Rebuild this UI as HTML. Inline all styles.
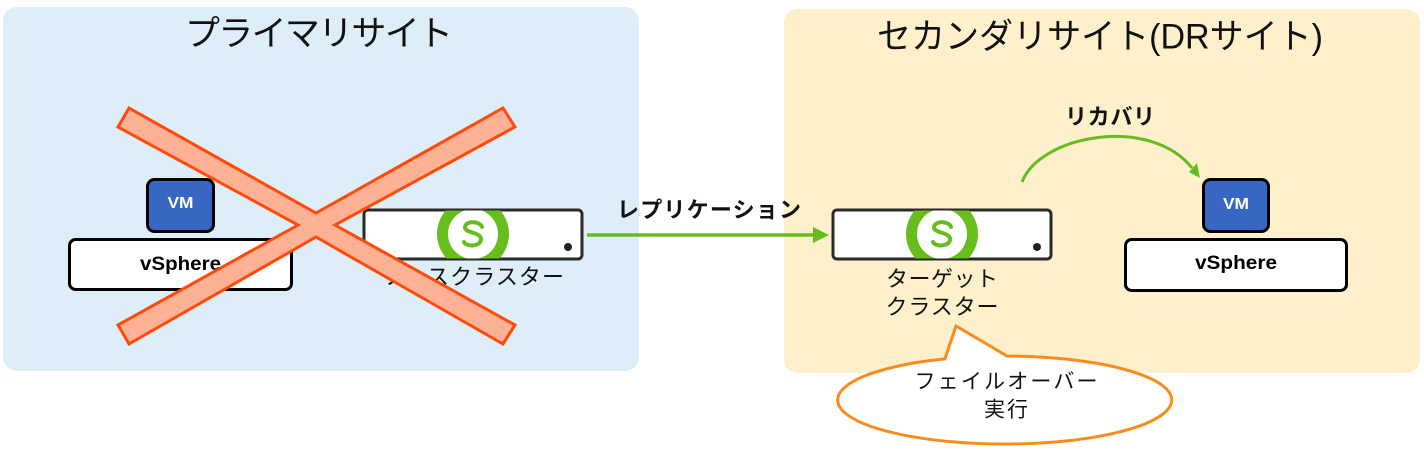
<!DOCTYPE html>
<html><head><meta charset="utf-8"><style>
html,body{margin:0;padding:0;background:#fff;}
svg{display:block;}
text{font-family:"Liberation Sans","Noto Sans CJK JP",sans-serif;}
</style></head><body>
<svg width="1424" height="450" viewBox="0 0 1424 450" xmlns="http://www.w3.org/2000/svg">
<defs>
<clipPath id="c1"><rect x="364.5" y="210.5" width="217" height="48" rx="3"/></clipPath>
<clipPath id="c2"><rect x="833.5" y="210.5" width="217" height="48" rx="3"/></clipPath>
</defs>
<!-- panels -->
<rect x="3" y="7" width="636" height="364" rx="14" fill="#DEEEF9"/>
<rect x="784" y="9" width="636" height="364" rx="14" fill="#FFF0CC"/>
<!-- titles -->
<text x="319" y="34" dominant-baseline="central" text-anchor="middle" font-size="35" fill="#111" textLength="268" lengthAdjust="spacing">プライマリサイト</text>
<text x="1100" y="37" dominant-baseline="central" text-anchor="middle" font-size="35" fill="#111" textLength="446" lengthAdjust="spacingAndGlyphs">セカンダリサイト(DRサイト)</text>

<!-- left vSphere -->
<rect x="69.5" y="239.5" width="222" height="50" rx="6" fill="#fff" stroke="#000" stroke-width="3"/>
<text x="180.5" y="270" text-anchor="middle" font-size="19" font-weight="bold" fill="#000" textLength="81" lengthAdjust="spacingAndGlyphs">vSphere</text>
<rect x="147.5" y="179.5" width="66" height="52" rx="7" fill="#3867C3" stroke="#000" stroke-width="3"/>
<text x="180.5" y="208" text-anchor="middle" font-size="16" font-weight="bold" fill="#fff" textLength="26" lengthAdjust="spacingAndGlyphs">VM</text>

<!-- source cluster -->
<rect x="364" y="210" width="218" height="49" rx="4" fill="#fff" stroke="#2a2a2a" stroke-width="3"/>
<g clip-path="url(#c1)">
<circle cx="473" cy="234" r="36" fill="#66BD1C"/>
<circle cx="473" cy="234" r="25" fill="#fff"/>
</g>
<path d="M482,227 C480,221 466,220 465,227 C464,233 481,232 481,239 C481,247 466,247 464,242" fill="none" stroke="#66BD1C" stroke-width="4" stroke-linecap="round"/>
<circle cx="568" cy="247" r="4" fill="#222"/>
<text x="473" y="277" dominant-baseline="central" text-anchor="middle" font-size="22" fill="#111" textLength="182" lengthAdjust="spacing">ソースクラスター</text>

<!-- X mark -->
<polygon points="129,108 316,213 503,108 515,127 335,225 515,325 503,344 316,237 129,344 118,325 298,225 118,127" fill="#FFB196" stroke="#FF4A0A" stroke-width="3" stroke-linejoin="miter"/>

<!-- replication arrow -->
<line x1="587" y1="235" x2="815" y2="235" stroke="#66BB1E" stroke-width="3.5"/>
<polygon points="813,227 829,235 813,243" fill="#66BB1E"/>
<text x="709" y="210" dominant-baseline="central" text-anchor="middle" font-size="22" font-weight="bold" fill="#111" textLength="184" lengthAdjust="spacing">レプリケーション</text>

<!-- target cluster -->
<rect x="833" y="210" width="218" height="49" rx="4" fill="#fff" stroke="#2a2a2a" stroke-width="3"/>
<g clip-path="url(#c2)">
<circle cx="942" cy="234" r="36" fill="#66BD1C"/>
<circle cx="942" cy="234" r="25" fill="#fff"/>
</g>
<path d="M951,227 C949,221 935,220 934,227 C933,233 950,232 950,239 C950,247 935,247 933,242" fill="none" stroke="#66BD1C" stroke-width="4" stroke-linecap="round"/>
<circle cx="1037" cy="247" r="4" fill="#222"/>
<text x="942" y="279" dominant-baseline="central" text-anchor="middle" font-size="22" fill="#111" textLength="112" lengthAdjust="spacing">ターゲット</text>
<text x="942" y="307" dominant-baseline="central" text-anchor="middle" font-size="22" fill="#111" textLength="113" lengthAdjust="spacing">クラスター</text>

<!-- recovery curve -->
<path d="M1022,182 C1040,135 1150,115 1192,168" fill="none" stroke="#66BB1E" stroke-width="3"/>
<polygon points="1189,172 1200,178 1197,163" fill="#66BB1E"/>
<text x="1110" y="117" dominant-baseline="central" text-anchor="middle" font-size="22" font-weight="bold" fill="#111" textLength="90" lengthAdjust="spacing">リカバリ</text>

<!-- right vSphere -->
<rect x="1125.5" y="239.5" width="221" height="51" rx="6" fill="#fff" stroke="#000" stroke-width="3"/>
<text x="1236" y="269" text-anchor="middle" font-size="19" font-weight="bold" fill="#000" textLength="82" lengthAdjust="spacingAndGlyphs">vSphere</text>
<rect x="1203.5" y="179.5" width="65" height="52" rx="7" fill="#3867C3" stroke="#000" stroke-width="3"/>
<text x="1236" y="209" text-anchor="middle" font-size="16" font-weight="bold" fill="#fff" textLength="26" lengthAdjust="spacingAndGlyphs">VM</text>

<!-- callout -->
<path d="M945,358.9 L956,326 L1007,356 A167,44 0 1 1 945,358.9 Z" fill="#fff" stroke="#FA8C1E" stroke-width="3" stroke-linejoin="miter"/>
<text x="1006" y="382" dominant-baseline="central" text-anchor="middle" font-size="21" fill="#111" textLength="183" lengthAdjust="spacing">フェイルオーバー</text>
<text x="1006" y="410" dominant-baseline="central" text-anchor="middle" font-size="21" fill="#111" textLength="44" lengthAdjust="spacing">実行</text>
</svg>
</body></html>
